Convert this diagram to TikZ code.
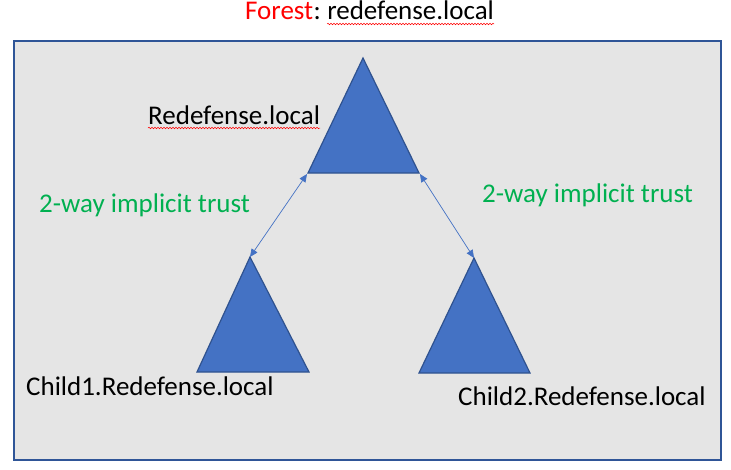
\documentclass[tikz,border=0pt]{standalone}
\usepackage{fontspec}
\setmainfont{Carlito}
\usetikzlibrary{arrows.meta,decorations.pathmorphing}

\definecolor{trifill}{HTML}{4472C4}
\definecolor{triedge}{HTML}{2F528F}
\definecolor{boxedge}{HTML}{2F5597}
\definecolor{boxfill}{HTML}{E5E5E5}
\definecolor{trustgreen}{HTML}{00B050}

\tikzset{
    domaintri/.style={fill=trifill, draw=triedge, line width=1.2pt, line join=miter},
    trust/.style={draw=trifill, line width=0.7pt,
        {Triangle[length=8pt,width=7pt]}-{Triangle[length=8pt,width=7pt]}},
    lbl/.style={font=\fontsize{27}{32}\selectfont, inner sep=0pt, anchor=base west},
    squiggle/.style={draw=red, line width=0.5pt, decorate,
        decoration={snake, amplitude=0.8pt, segment length=3pt}}
}

\begin{document}
\begin{tikzpicture}[x=1pt, y=-1pt]
    \useasboundingbox (0,0) rectangle (731,469);

        % forest box
        \draw[fill=boxfill, draw=boxedge, line width=2pt] (14,41) rectangle (721,460);

        % title
        \node[lbl, text=red] (titlekey) at (245,19) {Forest};
        \node[lbl] (titlecolon) at (titlekey.base east) {:};
        \node[lbl] (titlename) at ([xshift=6pt]titlecolon.base east) {redefense.local};
        \draw[squiggle] ([yshift=-5pt]titlename.base west) -- ([yshift=-5pt]titlename.base east);

        % domains
        \coordinate (root-top) at (363,58);
        \coordinate (root-l) at (308,173);
        \coordinate (root-r) at (419,173);
        \draw[domaintri] (root-top) -- (root-r) -- (root-l) -- cycle;

        \coordinate (childA-top) at (250,257);
        \coordinate (childA-l) at (197,372);
        \coordinate (childA-r) at (309,372);
        \draw[domaintri] (childA-top) -- (childA-r) -- (childA-l) -- cycle;

        \coordinate (childB-top) at (474,258);
        \coordinate (childB-l) at (419,373);
        \coordinate (childB-r) at (530,373);
        \draw[domaintri] (childB-top) -- (childB-r) -- (childB-l) -- cycle;

        % trusts
        \draw[trust] ([shift={(-1pt,-1pt)}]root-l) -- (childA-top);
        \draw[trust] ([shift={(1pt,-1pt)}]root-r) -- (childB-top);

        % labels
        \node[lbl] (rootname) at (148,124) {Redefense.local};
        \draw[squiggle] ([yshift=-4pt]rootname.base west) -- ([yshift=-4pt]rootname.base east);
        \node[lbl, text=trustgreen] (trustA) at (39,212) {2-way implicit trust};
        \node[lbl, text=trustgreen] (trustB) at (482,202) {2-way implicit trust};
        \node[lbl] (childAname) at (26,395) {Child1.Redefense.local};
        \node[lbl] (childBname) at (458,405) {Child2.Redefense.local};
\end{tikzpicture}
\end{document}
